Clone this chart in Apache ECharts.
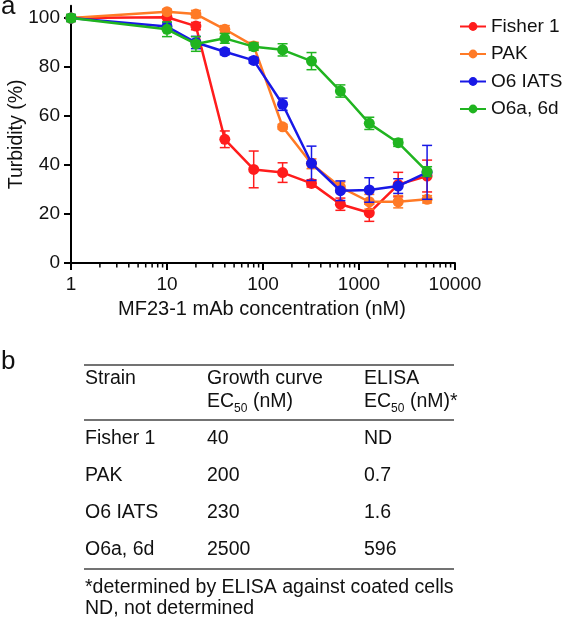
<!DOCTYPE html>
<html>
<head>
<meta charset="utf-8">
<script src="https://cdn.jsdelivr.net/npm/echarts@6/dist/echarts.min.js"></script>
<style>
html,body{margin:0;padding:0;background:#fff;}
#chart{width:566px;height:617px;}
</style>
</head>
<body>
<div id="chart"></div>
<script>
// ---- data ----
const concentrations = [1, 10, 20, 40, 80, 160, 320, 640, 1280, 2560, 5120];
const seriesNames = ['Fisher 1', 'PAK', 'O6 IATS', 'O6a, 6d'];
const seriesColors = ['#ff1c1c', '#ff7a26', '#1818e6', '#20b420'];
const fisher1 = [100, 100.3, 96.7, 50.5, 38.2, 36.9, 32.5, 24.0, 20.5, 32.0, 35.5];
const fisher1Err = [0, 0, 1.5, 3.4, 7.5, 4.0, 1.5, 2.5, 3.5, 5.0, 6.5];
const pak = [100, 102.6, 101.6, 95.4, 88.6, 55.6, 40.5, 31.0, 25.0, 25.0, 26.0];
const pakErr = [0, 1.0, 1.5, 1.5, 1.5, 1.0, 2.0, 2.0, 3.0, 2.5, 1.5];
const o6iats = [100, 96.5, 90.0, 86.2, 82.7, 64.8, 40.7, 29.5, 29.8, 31.4, 37.0];
const o6iatsErr = [0, 1.5, 2.5, 1.2, 1.2, 2.5, 7.0, 4.0, 5.0, 3.0, 11.0];
const o6a6d = [100, 95.4, 89.4, 91.7, 88.3, 87.0, 82.4, 70.2, 57.0, 49.1, 37.3];
const o6a6dErr = [1.5, 3.0, 3.0, 2.0, 1.5, 2.5, 3.5, 2.5, 2.5, 1.5, 2.0];
const yTicks = [0, 20, 40, 60, 80, 100];
const xMajorTicks = [1, 10, 100, 1000, 10000];
const xMinorTicks = [2,3,4,5,6,7,8,9,20,30,40,50,60,70,80,90,200,300,400,500,600,700,800,900,2000,3000,4000,5000,6000,7000,8000,9000];

// table (panel b)
const tableHeader1 = ['Strain', 'Growth curve', 'ELISA'];
const strains = ['Fisher 1', 'PAK', 'O6 IATS', 'O6a, 6d'];
const growthEC50 = ['40', '200', '230', '2500'];
const elisaEC50 = ['ND', '0.7', '1.6', '596'];
const footnotes = ['*determined by ELISA against coated cells', 'ND, not determined'];

const values = [fisher1, pak, o6iats, o6a6d];
const errors = [fisher1Err, pakErr, o6iatsErr, o6a6dErr];

const FONT = 'Liberation Sans, Arial, Helvetica, sans-serif';
const chart = echarts.init(document.getElementById('chart'), null, {renderer: 'canvas'});

const series = [];
values.forEach((vals, si) => {
  const color = seriesColors[si];
  series.push({
    type: 'custom',
    silent: true,
    z: 10 + si * 2,
    clip: false,
    data: concentrations.map((c, i) => [c, vals[i], errors[si][i]]),
    encode: {x: 0, y: 1},
    renderItem: function (params, api) {
      const x = api.value(0), y = api.value(1), e = api.value(2);
      if (!e) return null;
      const t = api.coord([x, y + e]);
      const b = api.coord([x, y - e]);
      const hw = 5;
      const st = {stroke: color, lineWidth: 1.5};
      return {type: 'group', children: [
        {type: 'line', shape: {x1: t[0], y1: t[1], x2: b[0], y2: b[1]}, style: st},
        {type: 'line', shape: {x1: t[0] - hw, y1: t[1], x2: t[0] + hw, y2: t[1]}, style: st},
        {type: 'line', shape: {x1: b[0] - hw, y1: b[1], x2: b[0] + hw, y2: b[1]}, style: st}
      ]};
    }
  });
  series.push({
    type: 'line',
    name: seriesNames[si],
    z: 11 + si * 2,
    data: concentrations.map((c, i) => [c, vals[i]]),
    symbol: 'circle',
    symbolSize: 11,
    lineStyle: {width: 2.5, color: color},
    itemStyle: {color: color},
    emphasis: {disabled: true}
  });
});

// tick marks on the log axis (major + minor), positioned by the axis scale
series.push({
  type: 'custom',
  silent: true,
  clip: false,
  z: 30,
  data: xMajorTicks.map(v => [v, 0, 7]).concat(xMinorTicks.map(v => [v, 0, 4.5])),
  encode: {x: 0, y: 1},
  renderItem: function (params, api) {
    const p = api.coord([api.value(0), 0]);
    const len = api.value(2);
    return {type: 'line', shape: {x1: p[0], y1: p[1], x2: p[0], y2: p[1] + len},
      style: {stroke: '#000', lineWidth: len > 5 ? 2 : 1.5}};
  }
});

// table graphics
const colX = [85, 207, 364];
const rowY = [439, 476, 513, 550];
const fs = 19.5;
const txt = (text, x, y, size) => ({
  type: 'text', silent: true,
  style: {text: text, x: x, y: y, fill: '#111', fontSize: size || fs, fontFamily: FONT, textVerticalAlign: 'middle'}
});
const graphics = [];
graphics.push(txt('a', 1, 7, 26));
graphics.push(txt('b', 1, 362, 26));
[365, 420, 569].forEach(y => graphics.push({type: 'line', silent: true,
  shape: {x1: 84, y1: y, x2: 454, y2: y}, style: {stroke: '#444', lineWidth: 1.5}}));
tableHeader1.forEach((h, i) => graphics.push(txt(h, colX[i], 379)));
[1, 2].forEach((ci, k) => {
  const x0 = colX[ci];
  graphics.push(txt('EC', x0, 402));
  graphics.push(txt('50', x0 + 27, 409, 12));
  graphics.push(txt(k === 0 ? '(nM)' : '(nM)*', x0 + 46, 402));
});
strains.forEach((s, i) => {
  graphics.push(txt(s, colX[0], rowY[i]));
  graphics.push(txt(growthEC50[i], colX[1], rowY[i]));
  graphics.push(txt(elisaEC50[i], colX[2], rowY[i]));
});
graphics.push(txt(footnotes[0], 85, 588));
graphics.push(txt(footnotes[1], 85, 609));
const xTitle = txt('MF23-1 mAb concentration (nM)', 262, 309, 20);
xTitle.style.textAlign = 'center';
graphics.push(xTitle);

chart.setOption({
  animation: false,
  textStyle: {fontFamily: FONT},
  grid: {left: 71, right: 111, top: 5.75, bottom: 354, containLabel: false, outerBoundsMode: 'none'},
  legend: {
    orient: 'vertical', left: 454, top: 12,
    itemWidth: 26, itemHeight: 11, itemGap: 8.5,
    data: seriesNames,
    textStyle: {fontSize: 19, color: '#111', fontFamily: FONT},
    selectedMode: false
  },
  xAxis: {
    type: 'log', logBase: 10, min: 1, max: 10000,
    axisLine: {lineStyle: {color: '#000', width: 2}},
    axisTick: {show: false},
    axisLabel: {fontSize: 19, color: '#111', margin: 12, fontFamily: FONT,
      formatter: v => String(v)},
    splitLine: {show: false}
  },
  yAxis: {
    type: 'value', min: 0, max: 105,
    name: 'Turbidity (%)', nameLocation: 'middle', nameGap: 44, nameRotate: 90,
    nameMoveOverlap: false,
    nameTextStyle: {fontSize: 19.5, color: '#111', fontFamily: FONT},
    axisLine: {show: true, lineStyle: {color: '#000', width: 2}},
    axisTick: {show: true, length: 7, customValues: yTicks, lineStyle: {color: '#000', width: 2}},
    axisLabel: {fontSize: 19, color: '#111', margin: 11, customValues: yTicks, fontFamily: FONT},
    splitLine: {show: false}
  },
  series: series,
  graphic: graphics
});
</script>
</body>
</html>
